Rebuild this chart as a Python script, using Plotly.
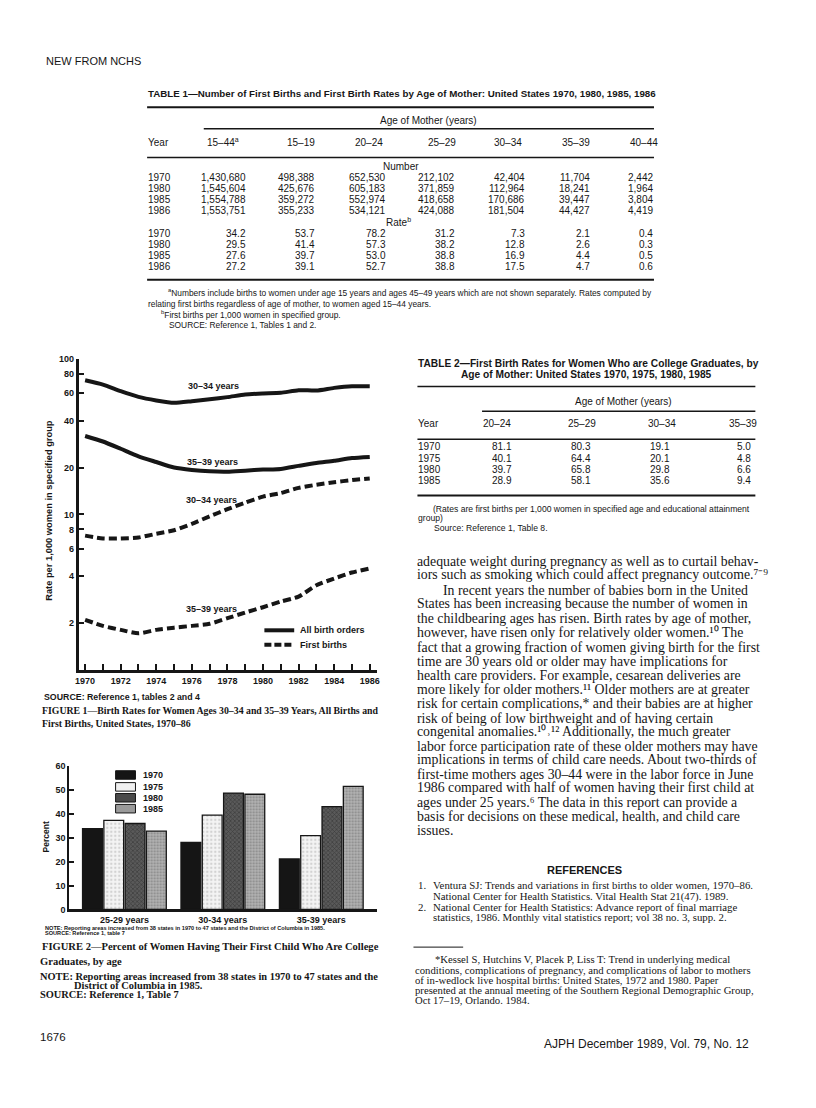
import plotly.graph_objects as go

W, H = 816, 1108
SANS = "Liberation Sans, Arial, sans-serif"
SERIF = "Liberation Serif, Times New Roman, serif"
INK = "#161616"

# ===== Table 1 =====
t1_years = ["1970", "1980", "1985", "1986"]
t1_ages = ["15–44<sup>a</sup>", "15–19", "20–24", "25–29", "30–34", "35–39", "40–44"]
t1_number = [
    ["1,430,680", "498,388", "652,530", "212,102", "42,404", "11,704", "2,442"],
    ["1,545,604", "425,676", "605,183", "371,859", "112,964", "18,241", "1,964"],
    ["1,554,788", "359,272", "552,974", "418,658", "170,686", "39,447", "3,804"],
    ["1,553,751", "355,233", "534,121", "424,088", "181,504", "44,427", "4,419"],
]
t1_rate = [
    ["34.2", "53.7", "78.2", "31.2", "7.3", "2.1", "0.4"],
    ["29.5", "41.4", "57.3", "38.2", "12.8", "2.6", "0.3"],
    ["27.6", "39.7", "53.0", "38.8", "16.9", "4.4", "0.5"],
    ["27.2", "39.1", "52.7", "38.8", "17.5", "4.7", "0.6"],
]

# ===== Table 2 =====
t2_years = ["1970", "1975", "1980", "1985"]
t2_ages = ["20–24", "25–29", "30–34", "35–39"]
t2_rate = [
    ["81.1", "80.3", "19.1", "5.0"],
    ["40.1", "64.4", "20.1", "4.8"],
    ["39.7", "65.8", "29.8", "6.6"],
    ["28.9", "58.1", "35.6", "9.4"],
]

# ===== Figure 1 data (rate per 1,000, log scale) =====
fig1_years = [1970, 1971, 1972, 1973, 1974, 1975, 1976, 1977, 1978,
              1979, 1980, 1981, 1982, 1983, 1984, 1985, 1986]
all_30_34 = [72.7, 68.2, 61.9, 56.9, 54.0, 52.1, 53.4, 55.0, 56.7,
             58.9, 59.8, 60.4, 62.8, 62.5, 65.0, 66.6, 66.6]
all_35_39 = [31.9, 29.4, 26.4, 23.6, 21.7, 20.0, 19.3, 18.9, 18.8,
             19.1, 19.4, 19.6, 20.5, 21.4, 22.1, 23.0, 23.4]
first_30_34 = [7.3, 7.0, 7.0, 7.1, 7.5, 7.9, 8.7, 9.7, 10.8,
               11.9, 13.0, 13.7, 14.8, 15.5, 16.1, 16.6, 17.0]
first_35_39 = [2.10, 1.92, 1.81, 1.72, 1.81, 1.87, 1.92, 1.98, 2.15,
               2.34, 2.53, 2.75, 2.96, 3.50, 3.87, 4.23, 4.49]
fig1_yticks = [2, 4, 6, 8, 10, 20, 40, 60, 80, 100]
fig1_xticks = [1970, 1972, 1974, 1976, 1978, 1980, 1982, 1984, 1986]

# ===== Figure 2 data (percent) =====
fig2_groups = ["25-29 years", "30-34 years", "35-39 years"]
pct_1970 = [33.7, 28.0, 21.1]
pct_1975 = [37.2, 39.4, 30.8]
pct_1980 = [35.9, 48.6, 42.9]
pct_1985 = [32.7, 48.1, 51.4]

# ===== Body text =====
body_lines = [
    "adequate weight during pregnancy as well as to curtail behav-",
    "iors such as smoking which could affect pregnancy outcome.⁷⁻⁹",
    "In recent years the number of babies born in the United",
    "States has been increasing because the number of women in",
    "the childbearing ages has risen. Birth rates by age of mother,",
    "however, have risen only for relatively older women.¹⁰ The",
    "fact that a growing fraction of women giving birth for the first",
    "time are 30 years old or older may have implications for",
    "health care providers. For example, cesarean deliveries are",
    "more likely for older mothers.¹¹ Older mothers are at greater",
    "risk for certain complications,* and their babies are at higher",
    "risk of being of low birthweight and of having certain",
    "congenital anomalies.¹⁰˒¹² Additionally, the much greater",
    "labor force participation rate of these older mothers may have",
    "implications in terms of child care needs. About two-thirds of",
    "first-time mothers ages 30–44 were in the labor force in June",
    "1986 compared with half of women having their first child at",
    "ages under 25 years.⁶ The data in this report can provide a",
    "basis for decisions on these medical, health, and child care",
    "issues.",
]
body_y = [561.7, 575, 590.7, 604, 619, 633.3, 648.3, 662.7, 676.7, 690.7,
          705, 720, 733.3, 748.3, 761.7, 776.7, 790, 805, 819.3, 833.3]

footnote_lines = [
    "*Kessel S, Hutchins V, Placek P, Liss T: Trend in underlying medical",
    "conditions, complications of pregnancy, and complications of labor to mothers",
    "of in-wedlock live hospital births: United States, 1972 and 1980. Paper",
    "presented at the annual meeting of the Southern Regional Demographic Group,",
    "Oct 17–19, Orlando. 1984.",
]


def px(x):
    return x / W


def py(y):
    return 1 - y / H


annotations = []
shapes = []


def text(x, y, s, size=10, family=SANS, anchor="left", bold=False, angle=0):
    annotations.append(dict(
        x=px(x), y=py(y), xref="paper", yref="paper", text=s, showarrow=False,
        xanchor=anchor, yanchor="middle", textangle=angle, borderpad=0,
        font=dict(family=family, size=size, color=INK,
                  weight="bold" if bold else "normal"),
    ))


def rule(x0, x1, y, width=1.5):
    shapes.append(dict(type="line", xref="paper", yref="paper",
                       x0=px(x0), x1=px(x1), y0=py(y), y1=py(y),
                       line=dict(color=INK, width=width)))


# ----- header -----
text(42, 57, "NEW FROM NCHS", size=11)

# ----- Table 1 -----
text(145, 89, "TABLE 1—Number of First Births and First Birth Rates by Age of Mother: "
     "United States 1970, 1980, 1985, 1986", size=9.75, bold=True)
rule(145, 655, 103.3, 2)
text(428, 116.7, "Age of Mother (years)", size=10, anchor="center")
rule(202, 655, 125, 1.5)
t1_center = [221.7, 300, 368, 441.7, 508, 577, 645]
t1_right = [246, 315, 386.7, 456, 526.7, 591.7, 655]
text(145, 138.3, "Year", size=10)
for c, lab in zip(t1_center, t1_ages):
    text(c, 138.3, lab, size=10, anchor="center")
rule(145, 655, 154, 1.5)
text(400, 162.7, "Number", size=10, anchor="center")
num_rows_y = [174, 185, 196.3, 207.3]
for yy, yr, row in zip(num_rows_y, t1_years, t1_number):
    text(145, yy, yr, size=10)
    for r, v in zip(t1_right, row):
        text(r, yy, v, size=10, anchor="right")
text(398, 219, "Rate<sup>b</sup>", size=10, anchor="center")
rate_rows_y = [230.3, 241.7, 253, 264.3]
for yy, yr, row in zip(rate_rows_y, t1_years, t1_rate):
    text(145, yy, yr, size=10)
    for r, v in zip(t1_right, row):
        text(r, yy, v, size=10, anchor="right")
rule(145, 655, 277.3, 2)
text(165, 290, "<sup>a</sup>Numbers include births to women under age 15 years and ages 45–49 years "
     "which are not shown separately. Rates computed by", size=8.4)
text(145, 301.7, "relating first births regardless of age of mother, to women aged 15–44 years.", size=8.4)
text(158, 312.3, "<sup>b</sup>First births per 1,000 women in specified group.", size=8.4)
text(166, 323.3, "SOURCE: Reference 1, Tables 1 and 2.", size=8.4)

# ----- Table 2 -----
text(417, 361.7, "TABLE 2—First Birth Rates for Women Who are College Graduates, by",
     size=10.2, bold=True)
text(587, 373.3, "Age of Mother: United States 1970, 1975, 1980, 1985",
     size=10.2, bold=True, anchor="center")
rule(417, 757, 385, 1.5)
text(624, 400, "Age of Mother (years)", size=10, anchor="center")
rule(482, 757, 410, 1.5)
text(417, 422.7, "Year", size=10)
t2_center = [496.7, 583, 663, 745]
t2_right = [512.7, 592.7, 671.7, 753.3]
for c, lab in zip(t2_center, t2_ages):
    text(c, 422.7, lab, size=10, anchor="center")
rule(417, 757, 438.3, 1.5)
t2_rows_y = [446, 457.3, 468.7, 480]
for yy, yr, row in zip(t2_rows_y, t2_years, t2_rate):
    text(417, yy, yr, size=10)
    for r, v in zip(t2_right, row):
        text(r, yy, v, size=10, anchor="right")
rule(417, 757, 495, 2)
text(432, 508.3, "(Rates are first births per 1,000 women in specified age and educational attainment",
     size=8.6)
text(417, 517.7, "group)", size=8.6)
text(433, 527.7, "Source: Reference 1, Table 8.", size=8.6)

# ----- body text -----
for i, (yy, line) in enumerate(zip(body_y, body_lines)):
    x0 = 441.7 if i == 2 else 416
    text(x0, yy, line, size=13.8, family=SERIF)

text(585, 873.3, "REFERENCES", size=11, bold=True, anchor="center")
text(416.7, 888.3, "1.", size=10.8, family=SERIF)
text(431.7, 888.3, "Ventura SJ: Trends and variations in first births to older women, 1970–86.",
     size=10.8, family=SERIF)
text(431.7, 899.3, "National Center for Health Statistics. Vital Health Stat 21(47). 1989.",
     size=10.8, family=SERIF)
text(416.7, 910, "2.", size=10.8, family=SERIF)
text(431.7, 910, "National Center for Health Statistics: Advance report of final marriage",
     size=10.8, family=SERIF)
text(431.7, 920, "statistics, 1986. Monthly vital statistics report; vol 38 no. 3, supp. 2.",
     size=10.8, family=SERIF)

rule(413, 463, 950.7, 1)
foot_y = [962.7, 973.8, 984, 994.2, 1004.4]
for i, (yy, line) in enumerate(zip(foot_y, footnote_lines)):
    text(433.3 if i == 0 else 413.3, yy, line, size=10.7, family=SERIF)

text(752, 1048.3, "AJPH December 1989, Vol. 79, No. 12", size=12, anchor="right")

# ----- Figure 1 captions / labels -----
text(46.7, 510, "Rate per 1,000 women in specified group", size=9.3, bold=True, angle=-90,
     anchor="center")
text(212, 384.3, "30–34 years", size=9, bold=True, anchor="center")
text(210.7, 461, "35–39 years", size=9, bold=True, anchor="center")
text(210, 499.3, "30–34 years", size=9, bold=True, anchor="center")
text(210, 609, "35–39 years", size=9, bold=True, anchor="center")
shapes.append(dict(type="line", xref="paper", yref="paper", x0=px(263), x1=px(293),
                   y0=py(631), y1=py(631), line=dict(color=INK, width=4)))
shapes.append(dict(type="line", xref="paper", yref="paper", x0=px(263), x1=px(293),
                   y0=py(645.7), y1=py(645.7), line=dict(color=INK, width=4, dash="7px,3px")))
text(297.7, 631, "All birth orders", size=9, bold=True)
text(297.7, 645.7, "First births", size=9, bold=True)
text(40.7, 698.3, "SOURCE: Reference 1, tables 2 and 4", size=8.8, bold=True)
text(38, 711.7, "FIGURE 1—Birth Rates for Women Ages 30–34 and 35–39 Years, All Births and",
     size=9.8, family=SERIF, bold=True)
text(38, 725, "First Births, United States, 1970–86", size=9.8, family=SERIF, bold=True)

# ----- Figure 2 captions / legend -----
text(43.3, 840, "Percent", size=8.5, bold=True, angle=-90, anchor="center")
legend_fill = [("1970", "#151515"), ("1975", "#f0f0f0"), ("1980", "#4a4a4a"), ("1985", "#9a9a9a")]
legend_y = [777, 789, 800, 811]
for (lab, col), yy in zip(legend_fill, legend_y):
    shapes.append(dict(type="rect", xref="paper", yref="paper", x0=px(113.3), x1=px(133.3),
                       y0=py(yy - 4.3), y1=py(yy + 4.3), fillcolor=col,
                       line=dict(color=INK, width=1)))
    text(140, yy, lab, size=9, bold=True)
text(41.7, 931.7, "NOTE: Reporting areas increased from 38 states in 1970 to 47 states and the "
     "District of Columbia in 1985.", size=5.6, bold=True)
text(41.7, 936.7, "SOURCE: Reference 1, table 7", size=5.6, bold=True)
text(38, 950, "FIGURE 2—Percent of Women Having Their First Child Who Are College",
     size=10.55, family=SERIF, bold=True)
text(36, 965, "Graduates, by age", size=10.55, family=SERIF, bold=True)
text(36, 980.7, "NOTE: Reporting areas increased from 38 states in 1970 to 47 states and the",
     size=10.4, family=SERIF, bold=True)
text(70, 989.3, "District of Columbia in 1985.", size=10.4, family=SERIF, bold=True)
text(36, 999, "SOURCE: Reference 1, Table 7", size=10.4, family=SERIF, bold=True)
text(36, 1041.7, "1676", size=11.5)

fig = go.Figure()

# Figure 1 lines
solid = dict(color=INK, width=4, shape="spline", smoothing=0.6)
dashed = dict(color=INK, width=4, shape="spline", smoothing=0.6, dash="8px,4px")
for ys, ln in [(all_30_34, solid), (all_35_39, solid), (first_30_34, dashed), (first_35_39, dashed)]:
    fig.add_trace(go.Scatter(x=fig1_years, y=ys, mode="lines", line=ln,
                             xaxis="x", yaxis="y", showlegend=False, hoverinfo="skip"))

# Figure 2 bars
bar_styles = [
    (pct_1970, dict(color="#151515")),
    (pct_1975, dict(color="#f4f4f4", pattern=dict(shape=".", fgcolor="#b0b0b0", size=4, solidity=0.3))),
    (pct_1980, dict(color="#5a5a5a", pattern=dict(shape="x", fgcolor="#1e1e1e", size=3, solidity=0.4))),
    (pct_1985, dict(color="#b4b4b4", pattern=dict(shape=".", fgcolor="#555555", size=3, solidity=0.4))),
]
for vals, mk in bar_styles:
    mk["line"] = dict(color=INK, width=1.3)
    fig.add_trace(go.Bar(x=fig2_groups, y=vals, marker=mk, xaxis="x2", yaxis="y2",
                         showlegend=False, hoverinfo="skip"))

tickfont = dict(family=SANS, size=9, color=INK, weight="bold")
fig.update_layout(
    width=W, height=H, margin=dict(l=0, r=0, t=0, b=0),
    paper_bgcolor="white", plot_bgcolor="white",
    barmode="group", bargap=0.134, bargroupgap=0.07,
    annotations=annotations, shapes=shapes,
    xaxis=dict(domain=[px(76), px(376.7)], range=[1969.63, 1986.43],
               tickvals=fig1_xticks, ticks="inside", ticklen=6, tickwidth=1.5, tickcolor=INK,
               minor=dict(tick0=1970, dtick=1, ticks="inside", ticklen=6, tickwidth=1.5,
                          tickcolor=INK, showgrid=False),
               showline=True, linecolor=INK, linewidth=3, showgrid=False,
               zeroline=False, tickfont=tickfont, anchor="y"),
    yaxis=dict(domain=[py(671), py(357)], type="log", range=[0, 2],
               tickvals=fig1_yticks, ticktext=[str(v) for v in fig1_yticks],
               ticks="inside", ticklen=6, tickwidth=1.5, tickcolor=INK,
               showline=True, linecolor=INK, linewidth=2.5, showgrid=False,
               zeroline=False, tickfont=tickfont, anchor="x"),
    xaxis2=dict(domain=[px(66.7), px(376.7)], type="category", range=[-0.56, 2.57],
                ticks="", showline=True, linecolor=INK, linewidth=3, showgrid=False,
                tickfont=tickfont, anchor="y2"),
    yaxis2=dict(domain=[py(912.7), py(767.7)], range=[0, 60], dtick=10,
                ticks="inside", ticklen=5, tickwidth=1.5, tickcolor=INK,
                showline=True, linecolor=INK, linewidth=2, showgrid=False,
                zeroline=False, tickfont=tickfont, anchor="x2"),
)

fig.write_html("out.html", config={"displayModeBar": False},
               post_script="document.body.style.margin='0px';")
